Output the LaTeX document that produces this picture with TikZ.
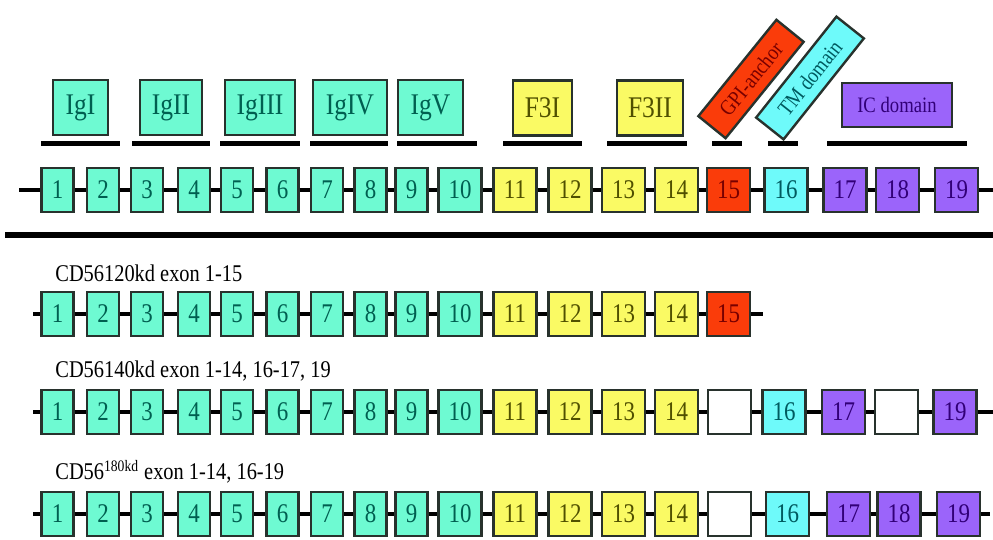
\documentclass[tikz,border=0pt]{standalone}
\usepackage{fontspec}
\setmainfont{Liberation Serif}[FakeStretch=0.85]
\usepackage{xcolor}
\usepackage{tikz}

\definecolor{igfill}{RGB}{110,250,210}
\definecolor{igtext}{RGB}{0,95,80}
\definecolor{fnfill}{RGB}{250,250,100}
\definecolor{fntext}{RGB}{80,80,0}
\definecolor{gpifill}{RGB}{250,60,10}
\definecolor{gpitext}{RGB}{120,0,0}
\definecolor{tmfill}{RGB}{110,250,250}
\definecolor{tmtext}{RGB}{0,90,95}
\definecolor{icfill}{RGB}{155,100,250}
\definecolor{ictext}{RGB}{50,0,120}
\definecolor{edgegray}{RGB}{40,50,45}

\begin{document}
\begin{tikzpicture}[
    x=0.5pt, y=-0.5pt,
    exon/.style={
        draw=edgegray,
        line width=1.2pt,
        minimum width=16pt,
        minimum height=22pt,
        inner sep=0pt,
        font=\fontsize{13.5}{13.5}\selectfont
    },
    wideexon/.style={exon, minimum width=21.5pt},
    igx/.style={fill=igfill, text=igtext},
    fnx/.style={fill=fnfill, text=fntext},
    gpix/.style={fill=gpifill, text=gpitext},
    tmx/.style={fill=tmfill, text=tmtext},
    icx/.style={fill=icfill, text=ictext},
    skipped/.style={wideexon, fill=white},
    dombox/.style={
        draw=edgegray,
        line width=1.2pt,
        minimum height=27.5pt,
        inner sep=0pt,
        font=\fontsize{15}{15}\selectfont
    },
    tiltbox/.style={dombox, minimum height=17.5pt, font=\fontsize{11}{11}\selectfont},
    dombar/.style={line width=2.5pt},
    intron/.style={line width=2pt},
    isoform/.style={anchor=base west, inner sep=0pt, font=\fontsize{12}{12}\selectfont}
]
\useasboundingbox (0,0) rectangle (993,540);

% Domain labels
\node[dombox, igx, minimum width=27.5pt] (igI) at (80.5,107.5) {IgI};
\node[dombox, igx, minimum width=31pt] (igII) at (171,107.5) {IgII};
\node[dombox, igx, minimum width=35pt] (igIII) at (260,107.5) {IgIII};
\node[dombox, igx, minimum width=37pt] (igIV) at (350,107.5) {IgIV};
\node[dombox, igx, minimum width=32.5pt] (igV) at (430.5,107.5) {IgV};
\node[dombox, fnx, minimum width=29.5pt] (fnI) at (542.5,108) {F3I};
\node[dombox, fnx, minimum width=33pt] (fnII) at (650,108) {F3II};
\node[tiltbox, gpix, rotate=51, minimum width=62pt] (gpi) at (751,79) {GPI-anchor};
\node[tiltbox, tmx, rotate=51.5, minimum width=64.5pt] (tm) at (810,78) {TM domain};
\node[dombox, icx, minimum width=55pt, minimum height=22pt,
      font=\fontsize{11}{11}\selectfont] (ic) at (897,105) {IC domain};

% Bars under the domains
\foreach \u/\v in {41/120, 132/210, 220/300, 310/388, 397/477,
                   503/582, 607/687, 712/742, 768/798, 827/967}
    \draw[dombar] (\u,144) -- (\v,144);

% Exons 1-14, all four rows
\foreach \r/\y in {a/190, b/314, c/412, d/514}{
    \foreach \n/\x in {1/57.5, 2/103, 3/147, 4/194, 5/237,
                       6/282.5, 7/327, 8/370.5, 9/411.5}
        \node[exon, igx] (\r\n) at (\x,\y) {\n};
    \node[wideexon, igx] (\r10) at (460,\y) {10};
    \foreach \n/\x in {11/515, 12/570, 13/623.5, 14/676.5}
        \node[wideexon, fnx] (\r\n) at (\x,\y) {\n};
}

% Full gene
\node[wideexon, gpix] (a15) at (728.5,190) {15};
\node[wideexon, tmx] (a16) at (786,190) {16};
\node[wideexon, icx] (a17) at (845,190) {17};
\node[wideexon, icx] (a18) at (897.5,190) {18};
\node[wideexon, icx] (a19) at (956.5,190) {19};
\coordinate (a0) at (19,190);
\coordinate (aend) at (993,190);

% Separator
\draw[line width=3pt] (5,235) -- (993,235);

% CD56 120kd
\node[isoform] (lb) at (55,282) {CD56120kd exon 1-15};
\node[wideexon, gpix] (b15) at (728.5,314) {15};
\coordinate (b0) at (33,314);
\coordinate (bend) at (763,314);

% CD56 140kd
\node[isoform] (lc) at (55,378) {CD56140kd exon 1-14, 16-17, 19};
\node[skipped] (c15) at (729.5,412) {};
\node[wideexon, tmx] (c16) at (784,412) {16};
\node[wideexon, icx] (c17) at (843.5,412) {17};
\node[skipped] (c18) at (896.5,412) {};
\node[wideexon, icx] (c19) at (955,412) {19};
\coordinate (c0) at (33,412);
\coordinate (cend) at (993,412);

% CD56 180kd
\node[isoform] (ld) at (55,480) {CD56\textsuperscript{180kd} exon 1-14, 16-19};
\node[skipped] (d15) at (729.5,514) {};
\node[wideexon, tmx] (d16) at (787.5,514) {16};
\node[wideexon, icx] (d17) at (848.5,514) {17};
\node[wideexon, icx] (d18) at (899,514) {18};
\node[wideexon, icx] (d19) at (958.5,514) {19};
\coordinate (d0) at (33,514);
\coordinate (dend) at (990,514);

% Introns
\foreach \r in {a,b,c,d}{
    \draw[intron] (\r0) -- (\r1);
    \foreach \i [count=\j from 2] in {1,...,13}
        \draw[intron] (\r\i) -- (\r\j);
}
\draw[intron] (a14) -- (a15) -- (a16) -- (a17) -- (a18) -- (a19) -- (aend);
\draw[intron] (b14) -- (b15) -- (bend);
\draw[intron] (c14) -- (c15) -- (c16) -- (c17) -- (c18) -- (c19) -- (cend);
\draw[intron] (d14) -- (d15) -- (d16) -- (d17) -- (d18) -- (d19) -- (dend);

\end{tikzpicture}
\end{document}
